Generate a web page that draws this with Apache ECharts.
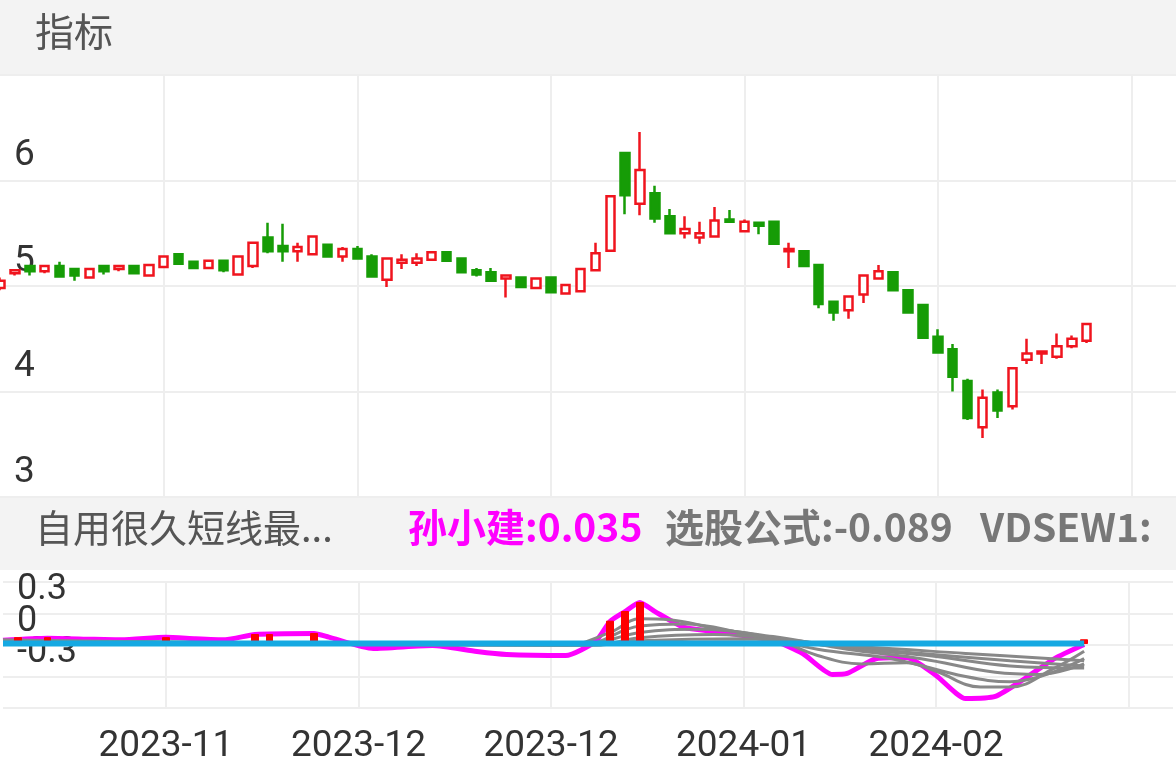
<!DOCTYPE html>
<html>
<head>
<meta charset="utf-8">
<script src="https://cdn.jsdelivr.net/npm/echarts@6/dist/echarts.min.js"></script>
<style>html,body{margin:0;padding:0;background:#fff}#main{width:1176px;height:782px}</style>
</head>
<body>
<div id="main"></div>
<script type="text/javascript">
// K线数据 [开, 收, 低, 高]
var kData = [
  [4.98,5.05,4.96,5.08],[5.12,5.15,5.10,5.16],[5.19,5.14,5.10,5.19],[5.14,5.19,5.12,5.20],
  [5.19,5.09,5.09,5.23],[5.16,5.10,5.05,5.16],[5.08,5.16,5.08,5.16],[5.19,5.14,5.11,5.19],
  [5.16,5.19,5.14,5.19],[5.19,5.12,5.12,5.19],[5.10,5.20,5.10,5.21],[5.18,5.28,5.17,5.29],
  [5.30,5.21,5.21,5.30],[5.23,5.17,5.17,5.24],[5.17,5.24,5.17,5.24],[5.24,5.15,5.13,5.24],
  [5.11,5.28,5.10,5.28],[5.19,5.41,5.17,5.41],[5.46,5.33,5.31,5.60],[5.38,5.33,5.23,5.59],
  [5.33,5.37,5.23,5.41],[5.30,5.47,5.29,5.48],[5.39,5.28,5.28,5.40],[5.28,5.35,5.23,5.37],
  [5.35,5.26,5.26,5.38],[5.28,5.09,5.09,5.30],[5.06,5.26,4.99,5.26],[5.22,5.25,5.16,5.30],
  [5.22,5.26,5.19,5.31],[5.25,5.32,5.25,5.33],[5.32,5.24,5.24,5.32],[5.26,5.13,5.12,5.26],
  [5.15,5.11,5.09,5.17],[5.13,5.05,5.05,5.17],[5.07,5.10,4.89,5.10],[5.08,4.99,4.98,5.08],
  [4.98,5.07,4.98,5.07],[5.08,4.94,4.94,5.08],[4.93,5.01,4.93,5.01],[4.95,5.16,4.95,5.16],
  [5.15,5.31,5.15,5.41],[5.335,5.85,5.33,5.85],[6.26,5.86,5.68,6.26],[5.78,6.10,5.67,6.46],
  [5.88,5.64,5.60,5.95],[5.66,5.50,5.50,5.73],[5.50,5.54,5.45,5.66],[5.46,5.50,5.40,5.61],
  [5.47,5.62,5.46,5.75],[5.63,5.61,5.61,5.72],[5.52,5.61,5.52,5.63],[5.60,5.57,5.49,5.60],
  [5.61,5.40,5.40,5.61],[5.33,5.35,5.17,5.41],[5.33,5.19,5.19,5.34],[5.20,4.83,4.79,5.20],
  [4.85,4.75,4.67,4.85],[4.77,4.90,4.69,4.90],[4.92,5.10,4.84,5.10],[5.07,5.14,5.06,5.20],
  [5.13,4.96,4.96,5.13],[4.96,4.75,4.75,4.97],[4.82,4.51,4.51,4.82],[4.52,4.37,4.37,4.59],
  [4.40,4.14,4.00,4.45],[4.10,3.75,3.73,4.12],[3.66,3.94,3.56,4.02],[3.99,3.82,3.75,4.02],
  [3.86,4.22,3.83,4.22],[4.30,4.36,4.26,4.50],[4.36,4.38,4.26,4.38],[4.33,4.43,4.31,4.55],
  [4.43,4.50,4.41,4.53],[4.48,4.64,4.46,4.64]
];
var slotCount = 80;
var tickLabels = {11: '2023-11', 24: '2023-12', 37: '2023-12', 50: '2024-01', 63: '2024-02'};

// 孙小建 [序号, 值]
var sunLine = [[0,-0.255],[3,-0.235],[6,-0.245],[8,-0.25],[11,-0.225],[13,-0.24],[15,-0.25],[17,-0.2],
  [21,-0.19],[22,-0.225],[25,-0.333],[29,-0.305],[32,-0.362],[34,-0.39],[38,-0.40],[40,-0.267],
  [41,-0.073],[42,0.019],[43,0.105],[44,0.02],[46,-0.133],[48,-0.171],[52,-0.257],[54,-0.381],
  [56,-0.581],[57,-0.571],[59,-0.429],[61,-0.419],[63,-0.59],[65,-0.81],[67,-0.79],[69,-0.619],
  [71,-0.429],[73,-0.295]];
// 均线组
var grayLines = [
  [[0,-0.25],[38,-0.30],[41,-0.18],[43,-0.05],[45,-0.06],[48,-0.14],[52,-0.24],[55,-0.40],[58,-0.48],[61,-0.47],[63,-0.55],[66,-0.70],[68,-0.70],[71,-0.52],[73,-0.36]],
  [[0,-0.26],[39,-0.30],[43,-0.12],[46,-0.10],[50,-0.19],[55,-0.34],[60,-0.43],[65,-0.60],[68,-0.65],[73,-0.43]],
  [[0,-0.26],[39,-0.30],[43,-0.18],[47,-0.15],[52,-0.22],[57,-0.34],[62,-0.43],[67,-0.56],[70,-0.58],[73,-0.48]],
  [[0,-0.27],[40,-0.30],[43,-0.23],[48,-0.20],[53,-0.25],[58,-0.34],[63,-0.41],[68,-0.50],[73,-0.52]],
  [[0,-0.28],[40,-0.30],[43,-0.26],[50,-0.24],[56,-0.31],[62,-0.38],[68,-0.45],[73,-0.50]],
  [[0,-0.28],[42,-0.29],[50,-0.27],[58,-0.32],[65,-0.38],[73,-0.45]]
];
var baseLevel = -0.286;
var barIndex = [1, 3, 11, 17, 18, 21, 41, 42, 43, 73];
var barTop = [-0.23, -0.23, -0.23, -0.2, -0.2, -0.19, -0.073, 0.019, 0.105, -0.25];

var categories = [];
for (var i = 0; i < slotCount; i++) categories.push(String(i));
var barData = [];
for (var j = 0; j < slotCount; j++) barData.push('-');
barIndex.forEach(function (k, n) { barData[k] = [baseLevel, barTop[n], baseLevel, barTop[n]]; });

var chart = echarts.init(document.getElementById('main'));
var splitFn = function (idx) { return idx >= 11 && (idx - 11) % 13 === 0; };
var grid = { color: '#eeeeee', width: 2 };
var cjk = 'Noto Sans CJK SC';
var subLabel = function (keep) {
  return { inside: true, showMaxLabel: true, verticalAlign: 'top', lineHeight: 16, margin: 14,
    fontSize: 36, color: '#333', fontFamily: 'Roboto',
    formatter: function (v) { var r = Math.round(v * 10); return keep.indexOf(r) >= 0 ? String(r / 10) : ''; } };
};
var option = {
  animation: false,
  backgroundColor: '#ffffff',
  graphic: [
    { type: 'rect', shape: { x: 0, y: 0, width: 1176, height: 75 }, style: { fill: '#f3f3f3' } },
    { type: 'text', left: 35, top: 12, style: { text: '指标', fontSize: 39, fill: '#555', fontFamily: cjk } },
    { type: 'rect', shape: { x: 0, y: 497, width: 1176, height: 73 }, style: { fill: '#f3f3f3' } },
    { type: 'text', left: 35, top: 509, style: { text: '自用很久短线最...', fontSize: 38, fill: '#555', fontFamily: cjk } },
    { type: 'text', left: 408, top: 508, style: { text: '孙小建:0.035', fontSize: 39, fontWeight: 'bold', fill: '#ff00ff', fontFamily: cjk } },
    { type: 'text', left: 665, top: 508, style: { text: '选股公式:-0.089', fontSize: 39, fontWeight: 'bold', fill: '#777', fontFamily: cjk } },
    { type: 'text', left: 980, top: 508, style: { text: 'VDSEW1:', fontSize: 39, fontWeight: 'bold', fill: '#777', fontFamily: cjk } }
  ],
  grid: [
    { left: 0, right: 0, top: 75, height: 422 },
    { left: 0, right: 0, top: 582, height: 126 }
  ],
  xAxis: [0, 1].map(function (g) {
    return {
      type: 'category', gridIndex: g, data: categories, boundaryGap: false,
      axisLine: { show: false }, axisTick: { show: false },
      splitLine: { show: true, interval: splitFn, lineStyle: grid },
      axisLabel: g === 0 ? { show: false } : {
        interval: 0, margin: 20, fontSize: 37, color: '#333', fontFamily: 'Roboto',
        formatter: function (v, idx) { return tickLabels[idx] || ''; }
      }
    };
  }),
  yAxis: [
    { type: 'value', gridIndex: 0, min: 3, max: 7, interval: 1,
      axisLine: { show: false }, axisTick: { show: false },
      splitLine: { lineStyle: grid },
      axisLabel: { inside: true, showMaxLabel: false, verticalAlign: 'bottom', margin: 14,
        padding: [0, 0, 6, 0], fontSize: 37, color: '#333', fontFamily: 'Roboto' } },
    { type: 'value', gridIndex: 1, min: -0.9, max: 0.3, interval: 0.3,
      axisLine: { show: false }, axisTick: { show: false },
      splitLine: { lineStyle: grid }, axisLabel: subLabel([3, -3]) },
    { type: 'value', gridIndex: 1, min: -0.9, max: 0.3, interval: 0.3, position: 'left',
      axisLine: { show: false }, axisTick: { show: false },
      splitLine: { show: false }, axisLabel: subLabel([0]) }
  ],
  series: [
    { type: 'candlestick', xAxisIndex: 0, yAxisIndex: 0, data: kData, barWidth: 9,
      itemStyle: { color: '#ffffff', color0: '#169c06', borderColor: '#f0141e', borderColor0: '#169c06', borderWidth: 2.5 } },
    { type: 'candlestick', xAxisIndex: 1, yAxisIndex: 1, data: barData, barWidth: 7, z: 3,
      itemStyle: { color: '#ff0000', color0: '#ff0000', borderColor: '#ff0000', borderColor0: '#ff0000', borderWidth: 1 } }
  ].concat(grayLines.map(function (d) {
    return { type: 'line', xAxisIndex: 1, yAxisIndex: 1, data: d, smooth: 0.4, symbol: 'none', z: 2,
      lineStyle: { color: '#888888', width: 3 } };
  })).concat([
    { type: 'line', xAxisIndex: 1, yAxisIndex: 1, data: sunLine, symbol: 'none', z: 1, smooth: 0.2,
      lineStyle: { color: '#ff00ff', width: 5 } },
    { type: 'line', xAxisIndex: 1, yAxisIndex: 1, data: [[0, baseLevel], [73, baseLevel]], symbol: 'none', z: 4,
      lineStyle: { color: '#15a9e2', width: 6 } }
  ])
};
chart.setOption(option);
</script>
</body>
</html>
